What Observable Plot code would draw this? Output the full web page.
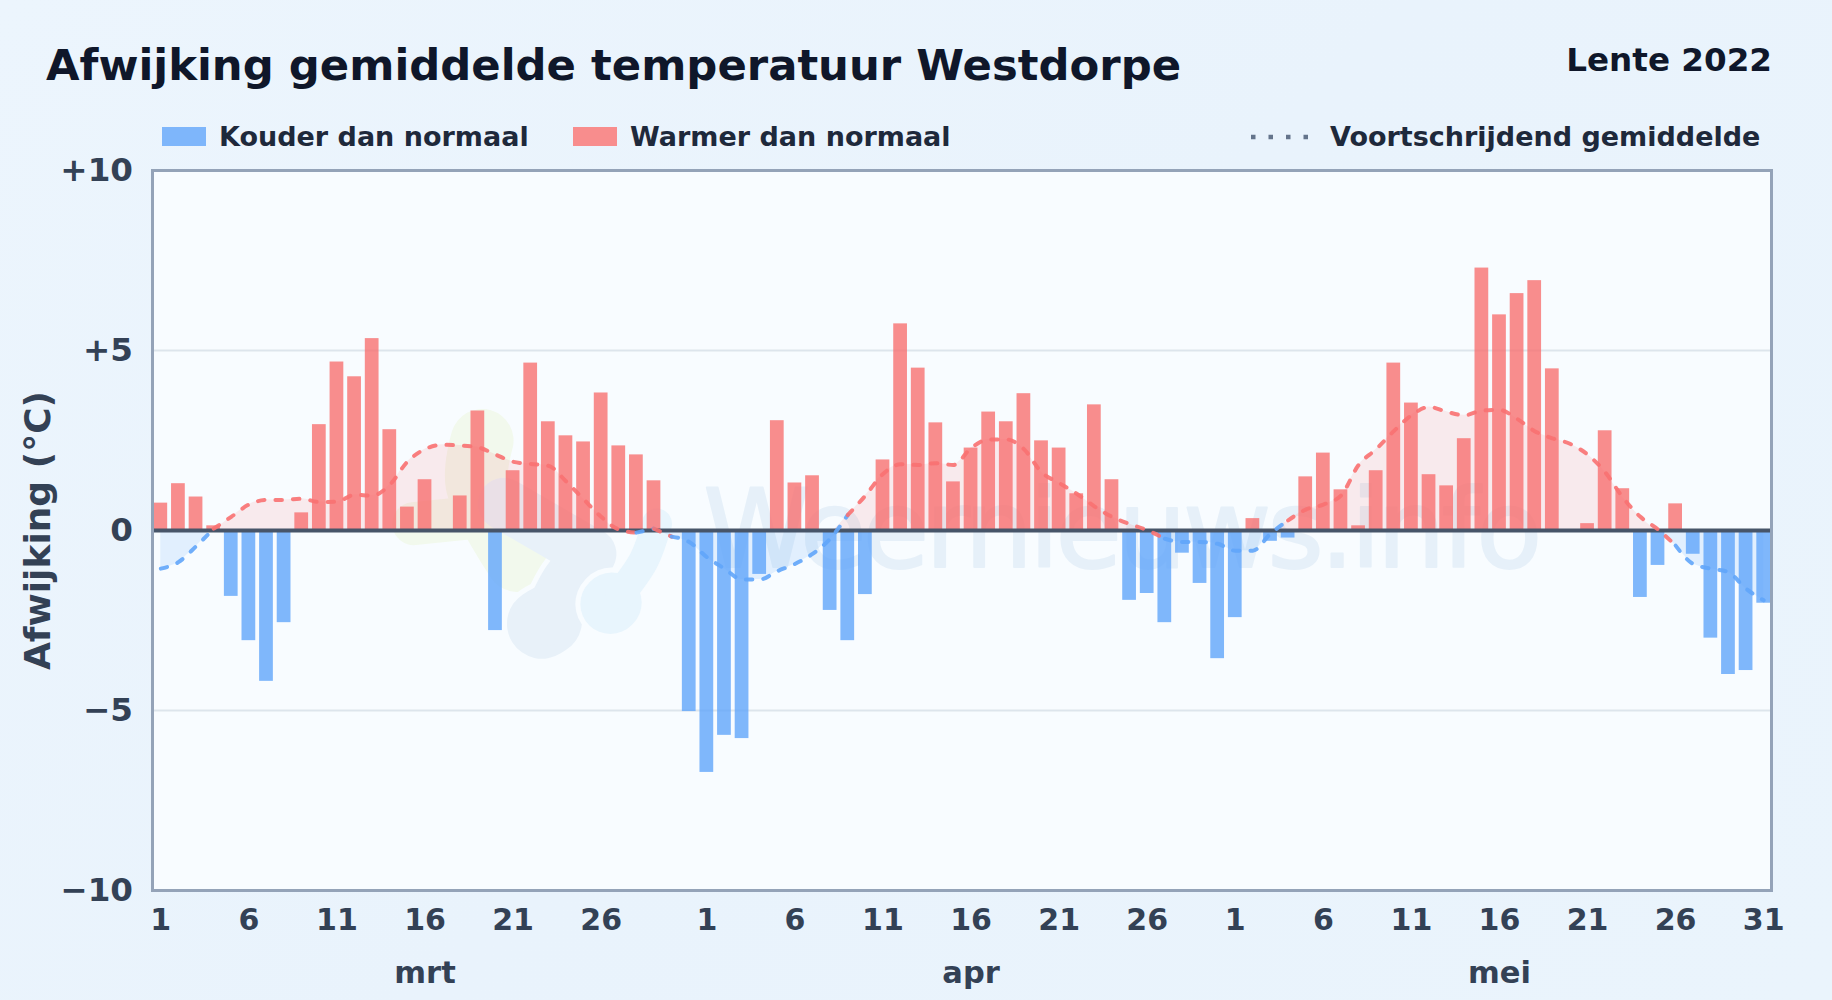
<!DOCTYPE html>
<html lang="nl">
<head>
<meta charset="utf-8">
<title>Afwijking gemiddelde temperatuur Westdorpe</title>
<script src="https://cdn.jsdelivr.net/npm/d3@7"></script>
<script src="https://cdn.jsdelivr.net/npm/@observablehq/plot@0.6"></script>
<style>
  html, body { margin: 0; padding: 0; width: 1832px; height: 1000px; overflow: hidden; }
  body { background: linear-gradient(135deg, #ecf5fd 0%, #e9f3fc 50%, #eaf4fc 100%); font-family: "DejaVu Sans", sans-serif; font-weight: bold; }
  #head { position: relative; width: 1832px; height: 150px; }
  #head > * { position: absolute; white-space: nowrap; line-height: 1; }
  #title { left: 46px; top: 43.5px; font-size: 43.35px; color: #0f172a; }
  #season { right: 60px; top: 43.5px; font-size: 32.6px; color: #0f172a; }
  .lab { font-size: 27px; color: #1e293b; top: 123px; }
  .swatch { width: 44px; height: 19px; top: 127px; }
  #chart svg { display: block; }
</style>
</head>
<body>
<div id="head">
  <div id="title">Afwijking gemiddelde temperatuur Westdorpe</div>
  <div id="season">Lente 2022</div>
  <div class="swatch" style="left:162px;background:#7eb6fb"></div>
  <div class="lab" style="left:219px">Kouder dan normaal</div>
  <div class="swatch" style="left:573px;background:#f88d8d"></div>
  <div class="lab" style="left:630px">Warmer dan normaal</div>
  <svg style="left:1250px;top:132px" width="60" height="10"><line x1="1" y1="5" x2="58" y2="5" stroke="#64748b" stroke-width="4.5" stroke-dasharray="4.5 13"/></svg>
  <div class="lab" style="left:1330px">Voortschrijdend gemiddelde</div>
</div>
<div id="chart"></div>
<script>
// Daily deviation from normal (°C), 1 March – 31 May 2022
const deviation = [
  0.76, 1.30, 0.93, 0.13, -1.83, -3.06, -4.19, -2.56, 0.49, 2.94,
  4.68, 4.27, 5.33, 2.80, 0.65, 1.41, 0, 0.96, 3.32, -2.78,
  1.66, 4.65, 3.02, 2.63, 2.46, 3.82, 2.35, 2.10, 1.38, 0,
  -5.03, -6.72, -5.69, -5.78, -1.22, 3.05, 1.32, 1.52, -2.22, -3.06,
  -1.78, 1.96, 5.74, 4.51, 2.99, 1.35, 2.29, 3.29, 3.02, 3.80,
  2.49, 2.29, 1.02, 3.49, 1.41, -1.94, -1.75, -2.56, -0.63, -1.47,
  -3.56, -2.42, 0.33, -0.30, -0.21, 1.49, 2.15, 1.13, 0.13, 1.66,
  4.65, 3.54, 1.55, 1.24, 2.55, 7.29, 5.99, 6.58, 6.94, 4.49,
  0, 0.19, 2.77, 1.16, -1.86, -0.97, 0.74, -0.66, -2.99, -4.00,
  -3.89, -2.02
];
// Moving average
const movingAverage = [
  -1.06, -0.88, -0.44, 0.05, 0.38, 0.72, 0.85, 0.85, 0.88, 0.79,
  0.80, 0.99, 0.97, 1.27, 1.91, 2.26, 2.38, 2.36, 2.31, 2.11,
  1.91, 1.85, 1.80, 1.37, 0.87, 0.38, 0.03, -0.06, 0.05, -0.17,
  -0.32, -0.74, -1.06, -1.36, -1.36, -1.13, -0.93, -0.65, -0.23, 0.43,
  0.97, 1.57, 1.84, 1.82, 1.87, 1.82, 2.29, 2.53, 2.53, 2.26,
  1.62, 1.32, 1.02, 0.67, 0.38, 0.18, 0.01, -0.23, -0.32, -0.32,
  -0.37, -0.56, -0.56, -0.09, 0.28, 0.58, 0.72, 0.97, 1.82, 2.26,
  2.76, 3.20, 3.43, 3.30, 3.20, 3.33, 3.35, 3.10, 2.76, 2.56,
  2.41, 2.11, 1.62, 0.92, 0.38, 0.03, -0.42, -0.93, -1.06, -1.16,
  -1.62, -1.94
];
const dayTicks = [0,5,10,15,20,25, 31,36,41,46,51,56, 61,66,71,76,81,86,91];
const dayLabels = ["1","6","11","16","21","26", "1","6","11","16","21","26", "1","6","11","16","21","26","31"];
const monthTicks = [15, 46, 76];
const monthLabels = ["mrt", "apr", "mei"];
const yTicks = [10, 5, 0, -5, -10];
const yLabels = ["+10", "+5", "0", "\u22125", "\u221210"];
const gridValues = [5, -5];
const watermark = [{x: 30.8, y: -1.02, text: "Weernieuws.info"}];
// Faint logo behind the bars: thick rounded strokes
const logoStrokes = [
  {c: "#f2f9ed", w: 63, p: [[18.24,2.50],[17.95,1.30],[20.23,-0.83]]},
  {c: "#f2f9ed", w: 43, p: [[14.36,0.19],[17.95,0.37]]},
  {c: "#f8fcff", w: 60, p: [[21.93,-2.5],[23.06,-1.39],[24.39,-0.65]]},
  {c: "#f8fcff", w: 80, p: [[21.64,-2.59],[21.93,-2.5]]},
  {c: "#e8f1f9", w: 70, p: [[21.64,-2.59],[21.93,-2.5]]},
  {c: "#e8f1f9", w: 50, p: [[21.93,-2.5],[23.06,-1.39],[24.39,-0.65]]},
  {c: "#e8f1f9", w: 52, p: [[24.39,-0.65],[19.47,0.74]]},
  {c: "#f8fcff", w: 70, p: [[25.52,-2.04],[25.6,-2.0]]},
  {c: "#f8fcff", w: 40, p: [[26.09,-1.76],[27.42,-0.83],[28.17,0.19]]},
  {c: "#e8f5fd", w: 60, p: [[25.52,-2.04],[25.6,-2.0]]},
  {c: "#e8f5fd", w: 30, p: [[26.09,-1.76],[27.42,-0.83],[28.17,0.19]]}
];

const days = deviation.map((v, i) => ({i, v, m: movingAverage[i]}));
const barHalf = 0.39;
const RED = "#f87171", BLUE = "#60a5fa";

const chart = Plot.plot({
  width: 1832,
  height: 850,
  marginLeft: 151.5,
  marginRight: 60,
  marginTop: 20,
  marginBottom: 110,
  x: {type: "linear", domain: [-0.5, 91.5]},
  y: {domain: [-10, 10]},
  style: {background: "transparent", fontFamily: "'DejaVu Sans', sans-serif", fontWeight: "bold", fontSize: "30px", overflow: "visible"},
  marks: [
    Plot.frame({fill: "#f8fcff", stroke: null, insetLeft: 0.5, insetRight: 1}),
    ...logoStrokes.map(s => Plot.line(s.p, {x: d => d[0], y: d => d[1], stroke: s.c, strokeWidth: s.w, strokeLinecap: "round", strokeLinejoin: "round", curve: "catmull-rom"})),
    Plot.text(watermark, {x: "x", y: "y", text: "text", textAnchor: "start", lineAnchor: "bottom", fontSize: 108, fontWeight: "normal", fill: "#e6f0f9", stroke: "#e6f0f9", strokeWidth: 2}),
    Plot.ruleY(gridValues, {stroke: "#dde5ec", strokeWidth: 2, insetLeft: 0.5, insetRight: 1}),
    Plot.areaY(days, {x: "i", y1: 0, y2: d => Math.max(d.m, 0), fill: RED, fillOpacity: 0.13, curve: "monotone-x"}),
    Plot.areaY(days, {x: "i", y1: 0, y2: d => Math.min(d.m, 0), fill: BLUE, fillOpacity: 0.15, curve: "monotone-x"}),
    Plot.rectY(days, {x1: d => d.i - barHalf, x2: d => d.i + barHalf, y1: 0, y2: "v", fill: d => d.v >= 0 ? RED : BLUE, fillOpacity: 0.8}),
    Plot.ruleY([0], {stroke: "#475569", strokeWidth: 4, insetLeft: 0.5, insetRight: 1}),
    Plot.line(days, {x: "i", y: "m", z: null, stroke: d => d.m >= 0 ? RED : BLUE, strokeWidth: 4, strokeDasharray: "6.5 11", strokeLinecap: "round", strokeOpacity: 0.9, curve: "monotone-x"}),
    Plot.frame({stroke: "#94a3b8", strokeWidth: 3, insetLeft: 0.5, insetRight: 1}),
    Plot.axisY({ticks: yTicks, tickSize: 0, tickPadding: 19, tickFormat: d => yLabels[yTicks.indexOf(d)], fill: "#334155", label: "Afwijking (\u00b0C)", labelAnchor: "center", labelArrow: "none", labelOffset: 128, fontSize: 32.6}),
    Plot.axisX({ticks: dayTicks, tickSize: 0, tickPadding: 18, tickFormat: d => dayLabels[dayTicks.indexOf(d)], fill: "#334155", label: null, fontSize: 30}),
    Plot.axisX({ticks: monthTicks, tickSize: 0, tickPadding: 71, tickFormat: d => monthLabels[monthTicks.indexOf(d)], fill: "#334155", label: null, fontSize: 30.5})
  ]
});
chart.querySelectorAll("text").forEach(t => {
  if (t.textContent === watermark[0].text) t.style.letterSpacing = "-3.7px";
  if (t.textContent.startsWith("Afwijking")) { t.style.fontSize = "36px"; t.style.fill = "#334155"; }
});
document.getElementById("chart").appendChild(chart);
</script>
</body>
</html>
